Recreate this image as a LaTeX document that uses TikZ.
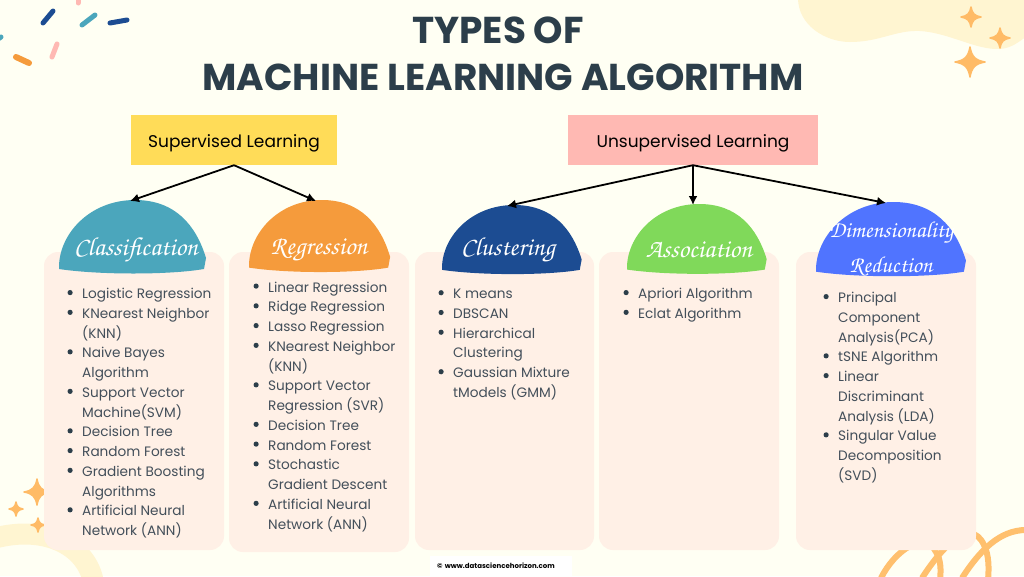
\documentclass[tikz,border=0pt]{standalone}
\usepackage[T1,TU]{fontenc}
\usepackage{fontspec}
\setmainfont{Poppins}
\newfontfamily\popfont{Poppins}
\newcommand{\handfont}{\fontencoding{T1}\fontfamily{pzc}\fontseries{mb}\fontshape{it}}
\definecolor{paper}{HTML}{FFFFF3}
\definecolor{blob}{HTML}{FFF5D1}
\definecolor{sparkcol}{HTML}{FFBB66}
\definecolor{squigcol}{HTML}{FFC06E}
\definecolor{panelcol}{HTML}{FFF0E6}
\definecolor{titlecol}{HTML}{2C3E4A}
\definecolor{listcol}{HTML}{434F5A}
\definecolor{supcol}{HTML}{FFDC58}
\definecolor{unsupcol}{HTML}{FFB9B3}
\definecolor{tealcol}{HTML}{4BA6BC}
\definecolor{orangecol}{HTML}{F59B3C}
\definecolor{navycol}{HTML}{1C4C92}
\definecolor{greencol}{HTML}{80D95A}
\definecolor{bluecol}{HTML}{5074FF}
\usetikzlibrary{arrows.meta}
\tikzset{
  titletext/.style={font=\popfont\bfseries\fontsize{37.4}{40}\selectfont,text=titlecol},
  kindbox/.style={minimum height=50pt,inner sep=0pt,font=\popfont\fontsize{17}{20}\selectfont,text=black},
  headtext/.style={inner sep=0pt,text=white,font=\handfont\fontsize{26}{30}\selectfont},
  dimtext/.style={headtext,font=\handfont\fontsize{23}{30}\selectfont},
  listtext/.style={anchor=north west,inner sep=0pt,align=left,text=listcol,font=\fontsize{13.65}{19.75}\selectfont},
  toarrow/.style={draw=black,line width=1.8pt,-{Latex[length=9pt,width=9pt]}},
  confetti/.style={line width=5pt,line cap=round},
}
\newcommand{\bul}{\llap{\raisebox{3.4pt}{\tikz\fill[titlecol] circle (2.6pt);}\hspace{9.5pt}}}
\newcommand{\dome}[5]{\fill[#1,shift={(#2,#3)},xscale=#4,yscale=#5] (0,69) .. controls (-1,35) and (30,0) .. (76,0) .. controls (116,0) and (137,25) .. (147,58) -- (145,69) .. controls (110,75) and (40,75) .. (0,69) -- cycle;}
\newcommand{\sparkle}[3]{\filldraw[sparkcol,line width=1.5pt,line join=round,shift={(#1,#2)},scale=#3] (0,-1) .. controls (0.12,-0.35) and (0.35,-0.12) .. (1,0) .. controls (0.35,0.12) and (0.12,0.35) .. (0,1) .. controls (-0.12,0.35) and (-0.35,0.12) .. (-1,0) .. controls (-0.35,-0.12) and (-0.12,-0.35) .. (0,-1) -- cycle;}
\begin{document}
\begin{tikzpicture}[x=1pt,y=-1pt]
\clip (0,0) rectangle (1024,576);
\fill[paper] (0,0) rectangle (1024,576);
\fill[blob] (798,-2) .. controls (798,25) and (825,42) .. (850,42) .. controls (880,42) and (895,30) .. (920,31) .. controls (950,33) and (975,50) .. (1000,49) .. controls (1012,48) and (1018,42) .. (1026,37) -- (1026,-2) -- cycle;
\draw[blob,line width=21pt] (-5,538) .. controls (45,525) and (85,545) .. (93,580);
\draw[squigcol,line width=6pt] (881,578) .. controls (895,550) and (925,530) .. (936,552) .. controls (941,560) and (941,570) .. (940,580);
\draw[squigcol,line width=6pt] (922,578) .. controls (940,550) and (970,515) .. (984,545) .. controls (989,555) and (989,568) .. (988,580);
\draw[squigcol,line width=6pt] (962,578) .. controls (980,550) and (1000,530) .. (1026,530);
\sparkle{971}{17}{10}
\sparkle{1000}{38}{10}
\sparkle{970}{62}{15}
\sparkle{37}{492}{13}
\sparkle{16}{509}{7}
\sparkle{38}{525}{7}
\draw[confetti,navycol] (43,23) -- (53,11);
\draw[confetti,tealcol] (82,25) -- (95,15);
\draw[confetti,navycol] (110,23) -- (127,20);
\draw[confetti,unsupcol] (78,-2) -- (78,3);
\draw[confetti,unsupcol] (52,57) -- (57,44);
\draw[confetti,orangecol,line width=6pt] (16,57) -- (29,63);
\draw[confetti,tealcol] (-2,39) -- (1,37);
\fill[panelcol,rounded corners=14pt] (44,252) rectangle (224,550);
\fill[panelcol,rounded corners=14pt] (229,252) rectangle (409,552);
\fill[panelcol,rounded corners=14pt] (415,252) rectangle (594,550);
\fill[panelcol,rounded corners=14pt] (599,252) rectangle (779,550);
\fill[panelcol,rounded corners=14pt] (796,252) rectangle (976,550);
\node[titletext] (title1) at (498,30) {TYPES OF};
\node[titletext] (title2) at (503,77) {MACHINE LEARNING ALGORITHM};
\node[kindbox,fill=supcol,minimum width=206pt] (supervised) at (234,140) {\raisebox{-7pt}[0pt][0pt]{Supervised Learning}};
\node[kindbox,fill=unsupcol,minimum width=250pt] (unsupervised) at (693,140) {\raisebox{-7pt}[0pt][0pt]{Unsupervised Learning}};
\dome{tealcol}{59}{200}{1}{1}
\dome{orangecol}{249}{200}{0.96}{0.98}
\dome{navycol}{442}{205}{0.95}{0.94}
\dome{greencol}{627}{204}{0.95}{0.95}
\dome{bluecol}{816}{202}{1.02}{1.01}
\coordinate (classiftop) at (130,201);
\coordinate (regrtop) at (316,201);
\coordinate (clustertop) at (507,206);
\coordinate (assoctop) at (693,205);
\coordinate (dimtop) at (886,203);
\draw[toarrow] (supervised.south) -- (classiftop);
\draw[toarrow] (supervised.south) -- (regrtop);
\draw[toarrow] (unsupervised.south) -- (clustertop);
\draw[toarrow] (unsupervised.south) -- (assoctop);
\draw[toarrow] (unsupervised.south) -- (dimtop);
\node[headtext] (classif) at (136,250) {Classification};
\node[headtext] (regr) at (319,250) {Regression};
\node[headtext] (cluster) at (508,250) {Clustering};
\node[headtext] (assoc) at (699,250) {Association};
\node[dimtext] (dim1) at (891,233) {Dimensionality};
\node[dimtext] (dim2) at (891,266) {Reduction};
\node[listtext] (classiflist) at (82,288) {\bul Logistic Regression\\\bul KNearest Neighbor\\(KNN)\\\bul Naive Bayes\\Algorithm\\\bul Support Vector\\Machine(SVM)\\\bul Decision Tree\\\bul Random Forest\\\bul Gradient Boosting\\Algorithms\\\bul Artificial Neural\\Network (ANN)};
\node[listtext] (regrlist) at (268,281.5) {\bul Linear Regression\\\bul Ridge Regression\\\bul Lasso Regression\\\bul KNearest Neighbor\\(KNN)\\\bul Support Vector\\Regression (SVR)\\\bul Decision Tree\\\bul Random Forest\\\bul Stochastic\\Gradient Descent\\\bul Artificial Neural\\Network (ANN)};
\node[listtext] (clusterlist) at (453,289) {\bul K means\\\bul DBSCAN\\\bul Hierarchical\\Clustering\\\bul Gaussian Mixture\\tModels (GMM)};
\node[listtext] (assoclist) at (638,288) {\bul Apriori Algorithm\\\bul Eclat Algorithm};
\node[listtext] (dimlist) at (838,292) {\bul Principal\\Component\\Analysis(PCA)\\\bul tSNE Algorithm\\\bul Linear\\Discriminant\\Analysis (LDA)\\\bul Singular Value\\Decomposition\\(SVD)};
\node[fill=white,inner xsep=7pt,text width=128pt,minimum height=20pt,font=\popfont\bfseries\fontsize{7}{8}\selectfont,text=black] (webmark) at (501,566) {© www.datasciencehorizon.com};
\end{tikzpicture}
\end{document}
